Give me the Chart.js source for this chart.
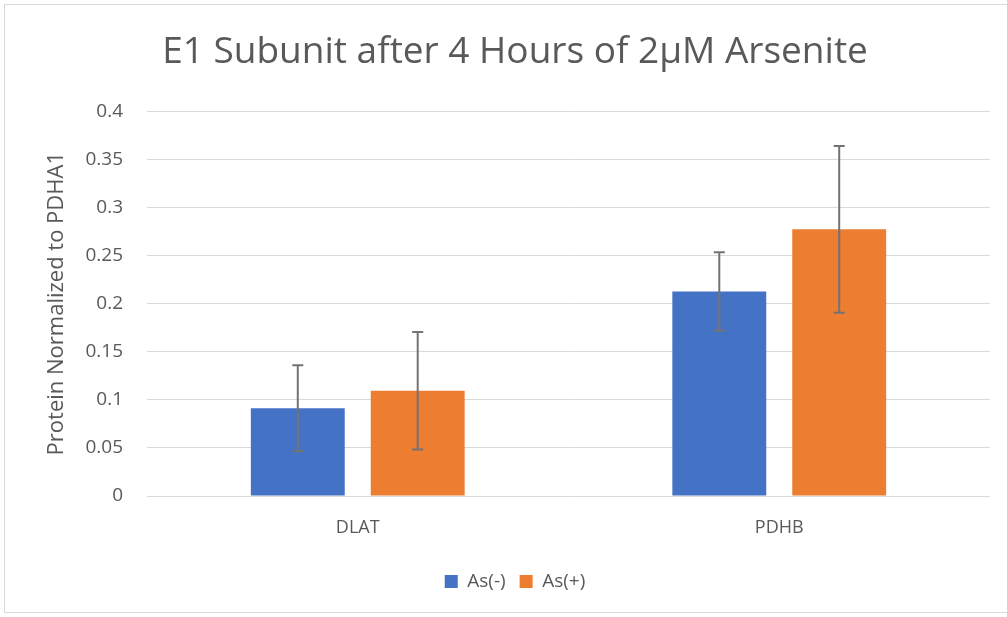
<!DOCTYPE html>
<html>
<head>
<meta charset="utf-8">
<script src="https://cdn.jsdelivr.net/npm/chart.js@4/dist/chart.umd.min.js"></script>
<style>
  html, body { margin: 0; padding: 0; background: #fff; overflow: hidden; }
  #wrap { position: relative; width: 1007px; height: 617px; }
  #frame { position: absolute; left: 4px; top: 4px; width: 1020px; height: 609px; border: 1px solid #d9d9d9; box-sizing: border-box; pointer-events: none; }
  canvas { position: absolute; left: 0; top: 0; }
</style>
</head>
<body>
<div id="wrap">
  <canvas id="c" width="1007" height="617"></canvas>
  <div id="frame"></div>
</div>
<script>
const titleText = "E1 Subunit after 4 Hours of 2µM Arsenite";
const yAxisTitle = "Protein Normalized to PDHA1";
const categories = ["DLAT", "PDHB"];
const seriesNames = ["As(-)", "As(+)"];
const asMinus = [0.0913, 0.2128];
const asPlus = [0.1094, 0.2774];
const asMinusErr = [0.0447, 0.0408];
const asPlusErr = [0.0611, 0.0867];
const yMin = 0, yMax = 0.4, yStep = 0.05;

const colors = ["#4472C4", "#ED7D31"];
const textColor = "#595959";
const fontFamily = "'Open Sans', 'Liberation Sans', sans-serif";

const errorBarPlugin = {
  id: 'errorBars',
  afterDatasetsDraw(chart) {
    const ctx = chart.ctx;
    const yScale = chart.scales.y;
    chart.data.datasets.forEach((ds, di) => {
      const meta = chart.getDatasetMeta(di);
      meta.data.forEach((bar, i) => {
        const v = ds.data[i];
        const e = ds.errors[i];
        const yTop = yScale.getPixelForValue(v + e);
        const yBot = yScale.getPixelForValue(v - e);
        const x = bar.x;
        ctx.save();
        ctx.strokeStyle = "#737373";
        ctx.lineWidth = 2;
        ctx.beginPath();
        ctx.moveTo(x, yTop); ctx.lineTo(x, yBot);
        ctx.moveTo(x - 5.5, yTop); ctx.lineTo(x + 5.5, yTop);
        ctx.moveTo(x - 5.5, yBot); ctx.lineTo(x + 5.5, yBot);
        ctx.stroke();
        ctx.restore();
      });
    });
  }
};

new Chart(document.getElementById('c'), {
  type: 'bar',
  data: {
    labels: categories,
    datasets: [
      { label: seriesNames[0], data: asMinus, errors: asMinusErr, backgroundColor: colors[0], borderWidth: 0 },
      { label: seriesNames[1], data: asPlus, errors: asPlusErr, backgroundColor: colors[1], borderWidth: 0 }
    ]
  },
  options: {
    responsive: false,
    animation: false,
    devicePixelRatio: 1,
    layout: { padding: { left: 40, right: 17, top: 14, bottom: 16 } },
    datasets: { bar: { categoryPercentage: 0.569, barPercentage: 0.783 } },
    plugins: {
      title: {
        display: true,
        text: titleText,
        color: textColor,
        font: { family: fontFamily, size: 37, weight: 'normal' },
        padding: { top: 16, bottom: 37 }
      },
      legend: {
        position: 'bottom',
        labels: {
          color: textColor,
          font: { family: fontFamily, size: 19 },
          boxWidth: 13, boxHeight: 13,
          padding: 14
        }
      },
      tooltip: { enabled: false }
    },
    scales: {
      x: {
        afterFit(scale) { scale.height = 62; },
        grid: { display: false, drawTicks: false },
        border: { display: false },
        ticks: { color: textColor, font: { family: fontFamily, size: 18 }, padding: 21 }
      },
      y: {
        min: yMin, max: yMax,
        afterFit(scale) { scale.width = 107; },
        grid: { color: "#d9d9d9", lineWidth: 1, drawTicks: false },
        border: { display: false },
        ticks: {
          stepSize: yStep,
          color: textColor,
          font: { family: fontFamily, size: 19 },
          padding: 24,
          callback: (v) => String(Math.round(v * 100) / 100)
        },
        title: {
          display: true,
          text: yAxisTitle,
          color: textColor,
          font: { family: fontFamily, size: 22 },
          padding: { top: 4, bottom: 4 }
        }
      }
    }
  },
  plugins: [errorBarPlugin]
});
</script>
</body>
</html>
